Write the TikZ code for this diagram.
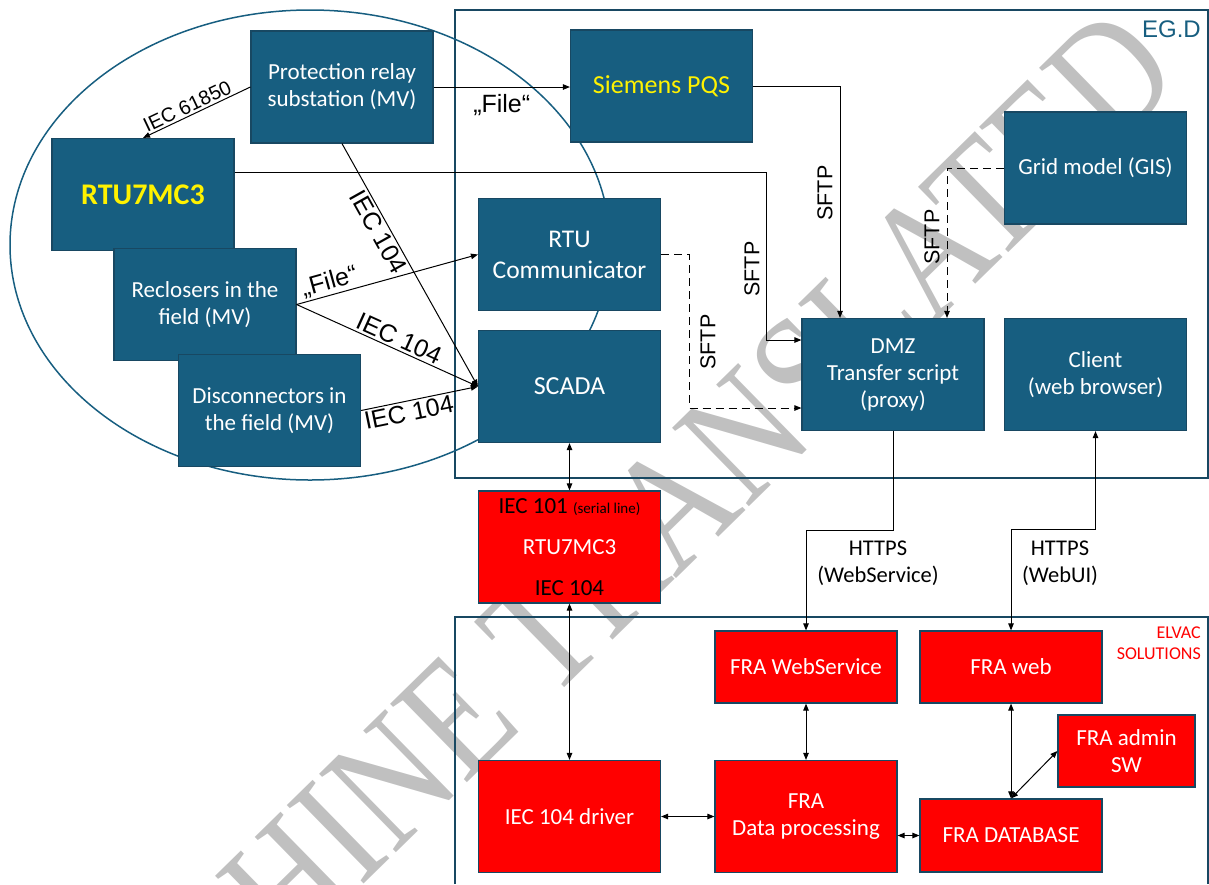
\documentclass[tikz,border=0pt]{standalone}
\usepackage{fontspec}
\setmainfont{Carlito}
\newfontfamily\arialf{Liberation Sans}
\newfontfamily\timesf{Liberation Serif}
\usetikzlibrary{arrows.meta}
\definecolor{egdblue}{RGB}{23,94,128}
\definecolor{egdline}{RGB}{24,72,98}
\definecolor{wmgray}{RGB}{192,192,192}
\begin{document}
\begin{tikzpicture}[x=1pt,y=-1pt,>={Triangle[length=7pt,width=5.5pt]},
  box/.style={draw=egdline,line width=1.2pt,minimum width=182pt,minimum height=112pt,
    inner sep=2pt,align=center,text=white,font=\fontsize{23}{27}\selectfont},
  bluebox/.style={box,fill=egdblue},
  redbox/.style={box,fill=red},
  conn/.style={black,line width=1pt},
  dashconn/.style={conn,dash pattern=on 8pt off 5pt},
  lbl/.style={font=\arialf\fontsize{25}{28}\selectfont,inner sep=2pt},
  sftp/.style={font=\arialf\fontsize{21.5}{24}\selectfont,inner sep=0pt,rotate=90},
  https/.style={align=center,font=\fontsize{22.5}{27}\selectfont,inner sep=0pt}]
  \useasboundingbox (0,0) rectangle (1209,884);

  % watermark
  \begin{scope}
    \clip (0,0) rectangle (1209,884);
    \node[text=wmgray,font=\timesf\fontsize{138}{138}\selectfont,rotate=44.4,yscale=1.215,
      anchor=base east,inner sep=0pt] (stamp) at (1185,80) {MACHINE TRANSLATED};
  \end{scope}

  % frames
  \draw[egdline,line width=1.5pt] (455,10) rectangle (1208,478);
  \draw[egdline,line width=1.5pt] (455,884) -- (455,617) -- (1208,617) -- (1208,884);
  \node[anchor=east,inner sep=0pt,text=egdblue,font=\arialf\fontsize{24}{24}\selectfont]
    (egd) at (1201,29) {EG.D};
  \node[anchor=east,align=right,inner sep=0pt,text=red,font=\fontsize{18}{21}\selectfont]
    (elvac) at (1201,643.5) {ELVAC\\SOLUTIONS};

  % field devices
  \draw[egdblue,line width=1.5pt] (310,245) ellipse [x radius=300pt,y radius=235pt];

  \node[bluebox] (prot) at (342,87) {Protection relay\\substation (MV)};
  \node[bluebox,text=yellow,font=\bfseries\fontsize{30}{36}\selectfont] (rtuL) at (143,194.5) {RTU7MC3};
  \node[bluebox] (recl) at (205,304.5) {Reclosers in the\\field (MV)};
  \node[bluebox] (disc) at (269.5,410.5) {Disconnectors in\\the field (MV)};

  % EG.D
  \node[bluebox,text=yellow,font=\fontsize{26}{31}\selectfont] (pqs) at (661.5,86) {Siemens PQS};
  \node[bluebox,font=\fontsize{25.5}{31}\selectfont] (comm) at (569.5,254.5) {RTU\\Communicator};
  \node[bluebox,font=\fontsize{26}{31}\selectfont] (scada) at (569.5,386.5) {SCADA};
  \node[bluebox] (dmz) at (893,374.5) {DMZ\\Transfer script\\(proxy)};
  \node[bluebox] (grid) at (1095.5,168) {Grid model (GIS)};
  \node[bluebox] (client) at (1095.5,374.5) {Client\\(web browser)};

  % ELVAC
  \node[redbox,font=\fontsize{23}{41}\selectfont] (rtuR) at (569.5,547)
    {\textcolor{black}{IEC 101 {\fontsize{15}{15}\selectfont(serial line)}}\\RTU7MC3\\\textcolor{black}{IEC 104}};
  \node[redbox] (drv) at (569.5,816.5) {IEC 104 driver};
  \node[redbox,minimum height=72pt] (frasvc) at (806,667) {FRA WebService};
  \node[redbox] (proc) at (806,816.5) {FRA\\Data processing};
  \node[redbox,minimum height=72pt] (fraweb) at (1011,667) {FRA web};
  \node[redbox,minimum width=137pt,minimum height=72pt] (admin) at (1126.5,751) {FRA admin\\SW};
  \node[redbox,minimum height=73pt] (db) at (1011,835.5) {FRA DATABASE};

  % links
  \draw[conn,->] (prot.west) -- (rtuL.north)
    node[pos=0.55,above,sloped,font=\arialf\fontsize{20}{22}\selectfont,inner sep=2pt] {IEC 61850};
  \draw[conn,->] (prot.east) -- (prot.east -| pqs.west)
    node[midway,below=5pt,lbl] {„File“};
  \draw[conn,->] (prot.south) -- (scada.west)
    node[pos=0.34,below,sloped,lbl] {IEC 104};
  \draw[conn,->] (recl.east) -- (comm.west)
    node[pos=0.2,above,sloped,lbl] {„File“};
  \draw[conn,->] (recl.east) -- (scada.west)
    node[pos=0.54,above,sloped,lbl] {IEC 104};
  \draw[conn,->] (disc.east) -- (scada.west)
    node[pos=0.39,below,sloped,lbl] {IEC 104};

  \draw[conn,->] ([yshift=22pt]rtuL.east) -| ([xshift=-35pt,yshift=34.5pt]dmz.west)
    -- ([yshift=34.5pt]dmz.west);
  \draw[dashconn,->] (comm.east) -| ([xshift=-112pt,yshift=-33.5pt]dmz.west)
    -- ([yshift=-33.5pt]dmz.west);
  \draw[conn,->] (pqs.east) -| ([xshift=-53pt]dmz.north);
  \draw[dashconn,->] (grid.west) -| ([xshift=54pt]dmz.north);
  \node[sftp] (sftpA) at (752,269) {SFTP};
  \node[sftp] (sftpB) at (708,342) {SFTP};
  \node[sftp] (sftpC) at (825,193) {SFTP};
  \node[sftp] (sftpD) at (932,237) {SFTP};

  \draw[conn,<->] (scada.south) -- (rtuR.north);
  \draw[conn,<->] (rtuR.south) -- (drv.north);

  \draw[conn,->] (dmz.south) -- ++(0,99) -| (frasvc.north);
  \draw[conn,<->] (fraweb.north) -- ++(0,-101) -| (client.south);
  \node[https] (httpsA) at (878,563.5) {HTTPS\\(WebService)};
  \node[https] (httpsB) at (1060,563.5) {HTTPS\\(WebUI)};

  \draw[conn,<->] (frasvc.south) -- (proc.north);
  \draw[conn,<->] (drv.east) -- (proc.west);
  \draw[conn,<->] (proc.east |- db.west) -- (db.west);
  \draw[conn,<->] (fraweb.south) -- (db.north);
  \draw[conn,<->] (admin.west) -- (db.north);
\end{tikzpicture}
\end{document}
